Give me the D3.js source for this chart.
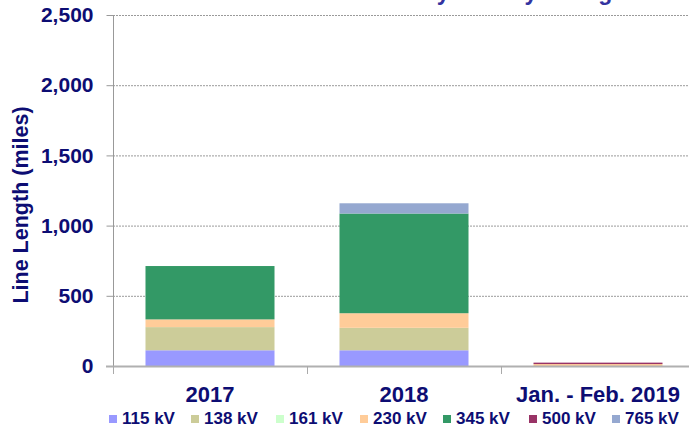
<!DOCTYPE html>
<html>
<head>
<meta charset="utf-8">
<script src="https://cdn.jsdelivr.net/npm/d3@7"></script>
<style>
  body { margin: 0; background: #fff; }
  svg text { font-family: "Liberation Sans", Arial, sans-serif; font-weight: bold; }
</style>
</head>
<body>
<svg id="chart" width="689" height="433"></svg>
<script>
// data (miles)
var categories = ["2017", "2018", "Jan. - Feb. 2019"];
var voltages = ["115 kV", "138 kV", "161 kV", "230 kV", "345 kV", "500 kV", "765 kV"];
var colors = ["#9999ff", "#cccc99", "#ccffcc", "#ffcc99", "#339966", "#993366", "#95a8d0"];
var kv115 = [112, 112, 0];
var kv138 = [165, 160, 0];
var kv161 = [0, 0, 0];
var kv230 = [55, 104, 14];
var kv345 = [380, 710, 0];
var kv500 = [0, 0, 10];
var kv765 = [0, 73, 0];
var yTicks = [0, 500, 1000, 1500, 2000, 2500];

var series = [kv115, kv138, kv161, kv230, kv345, kv500, kv765];
var rows = categories.map(function (c, i) {
  var r = { cat: c };
  voltages.forEach(function (v, j) { r[v] = series[j][i]; });
  return r;
});

var svg = d3.select("#chart");
var navy = "#0d0d73";

var x = d3.scaleBand().domain(categories).range([113, 695]).paddingInner(0.335).paddingOuter(0.1675);
var y = d3.scaleLinear().domain([0, 2500]).range([366, 15]);

// grid lines
svg.append("g").selectAll("line")
  .data(yTicks.filter(function (d) { return d > 0; }))
  .enter().append("line")
  .attr("x1", 113).attr("x2", 689)
  .attr("y1", function (d) { return y(d) + 0.5; })
  .attr("y2", function (d) { return y(d) + 0.5; })
  .attr("stroke", "#9a9a9a")
  .attr("stroke-dasharray", "2,1");

// stacked bars
var stack = d3.stack().keys(voltages)(rows);
var layer = svg.append("g").selectAll("g")
  .data(stack)
  .enter().append("g")
  .attr("fill", function (d, i) { return colors[i]; });

layer.selectAll("rect")
  .data(function (d) { return d; })
  .enter().append("rect")
  .attr("x", function (d) { return x(d.data.cat); })
  .attr("width", x.bandwidth())
  .attr("y", function (d) { return y(d[1]); })
  .attr("height", function (d) { return y(d[0]) - y(d[1]); });

// y axis
var yAxis = d3.axisLeft(y).tickValues(yTicks).tickSize(7).tickPadding(13)
  .tickFormat(d3.format(","));
var gy = svg.append("g").attr("transform", "translate(113.5,0)").call(yAxis);
gy.select(".domain").attr("stroke", "#999").attr("d", "M0,15V374");
gy.selectAll(".tick line").attr("stroke", "#999");
gy.selectAll(".tick text").attr("fill", navy).style("font-size", "21px");

// x axis
var xAxis = d3.axisBottom(x).tickSize(0).tickPadding(0);
var gx = svg.append("g").attr("transform", "translate(0,366)").call(xAxis);
gx.select(".domain").remove();
gx.selectAll(".tick text").attr("fill", navy).attr("dy", null).attr("y", 36)
  .style("font-size", "22px");
svg.append("line").attr("x1", 106).attr("x2", 689).attr("y1", 366.5).attr("y2", 366.5)
  .attr("stroke", "#b0b0b0").attr("stroke-width", 2);
svg.append("g").selectAll("line")
  .data([113, 113 + x.step(), 113 + 2 * x.step()])
  .enter().append("line")
  .attr("x1", function (d) { return d + 0.5; }).attr("x2", function (d) { return d + 0.5; })
  .attr("y1", 366).attr("y2", 374)
  .attr("stroke", "#aaa");

// y title
svg.append("text")
  .attr("transform", "translate(28,205) rotate(-90)")
  .attr("text-anchor", "middle")
  .attr("fill", navy)
  .style("font-size", "21.5px")
  .text("Line Length (miles)");

// chart title, cut by the top edge
svg.append("text")
  .attr("x", 625).attr("y", 0)
  .attr("text-anchor", "end")
  .attr("fill", "#3333a0")
  .style("font-size", "23px")
  .text("Transmission Additions by Year by Voltage");

// legend
var legendX = [109, 191, 276, 360, 443, 529, 612];
var lg = svg.append("g").selectAll("g")
  .data(voltages)
  .enter().append("g")
  .attr("transform", function (d, i) { return "translate(" + legendX[i] + ",424)"; });
lg.append("rect").attr("x", 0).attr("y", -9).attr("width", 8).attr("height", 8)
  .attr("fill", function (d, i) { return colors[i]; });
lg.append("text").attr("x", 13).attr("y", 0)
  .attr("fill", navy)
  .style("font-size", "17px")
  .text(function (d) { return d; });
</script>
</body>
</html>
